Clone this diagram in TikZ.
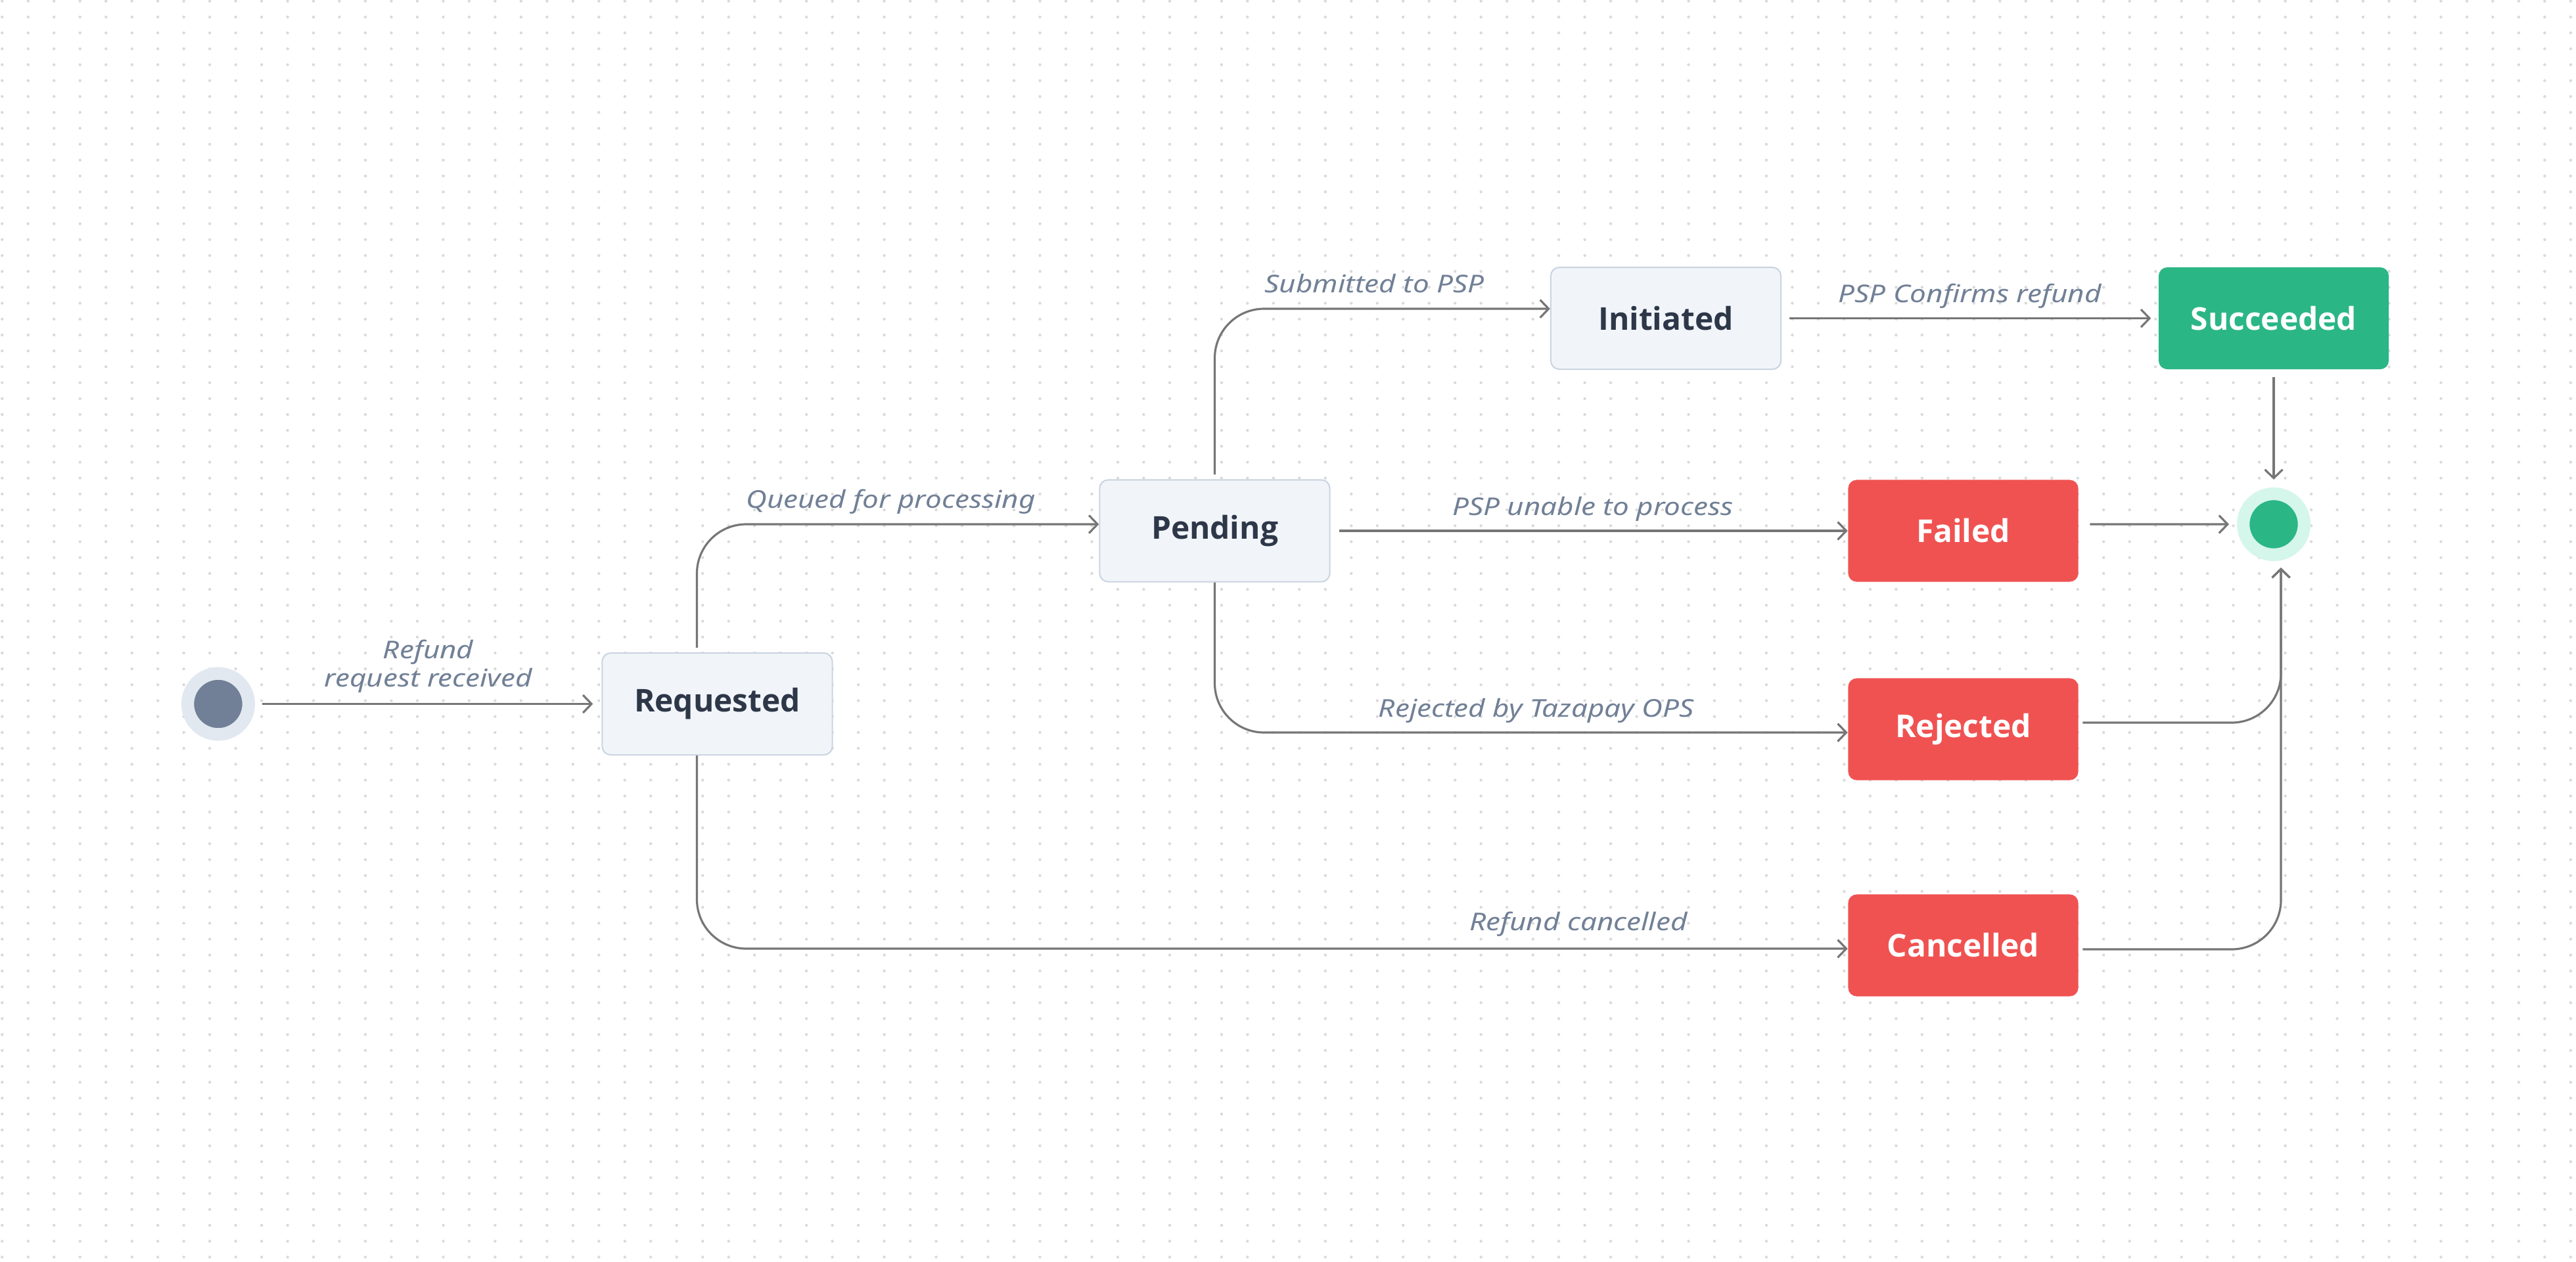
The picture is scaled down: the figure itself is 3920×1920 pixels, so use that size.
\documentclass[tikz,border=0pt]{standalone}
\usepackage{fontspec}
\setmainfont{Noto Sans}
\newfontfamily\stateFace{Open Sans}
\newfontfamily\labelFace{Noto Sans}[FakeStretch=1.18]
\usetikzlibrary{arrows.meta}

\definecolor{lineGray}{HTML}{767676}
\definecolor{labelSlate}{HTML}{718096}
\definecolor{textDark}{HTML}{2D3748}
\definecolor{stateFill}{HTML}{F1F5F9}
\definecolor{stateBorder}{HTML}{CBD5E1}
\definecolor{failRed}{HTML}{F05252}
\definecolor{doneGreen}{HTML}{2BB686}
\definecolor{doneRing}{HTML}{D5F6EA}
\definecolor{startRing}{HTML}{E2E8F0}
\definecolor{gridDot}{HTML}{DADADA}

\begin{document}
\begin{tikzpicture}[x=0.01cm, y=-0.01cm,
		stateBox/.style={rectangle, rounded corners=0.13cm, minimum width=3.5cm, minimum height=1.55cm, inner sep=0pt, font=\stateFace\fontsize{13.6}{16}\selectfont\bfseries},
		neutral/.style={stateBox, fill=stateFill, draw=stateBorder, line width=0.6pt, text=textDark},
		bad/.style={stateBox, fill=failRed, text=white},
		good/.style={stateBox, fill=doneGreen, text=white},
		pseudo/.style={circle, minimum size=0.927cm, inner sep=0pt, line width=0.193cm},
		flow/.style={draw=lineGray, line width=0.9pt, rounded corners=0.75cm, -{Straight Barb[length=0.13cm, width=0.27cm]}},
		lbl/.style={font=\labelFace\fontsize{10.6}{12.5}\selectfont\itshape, text=labelSlate, anchor=base, yshift=0.24cm, inner sep=0pt}]
			
			\useasboundingbox (0,0) rectangle (3920,1920);
			\fill[white] (0,0) rectangle (3920,1920);
			\foreach \i in {0,...,99} {
				\fill[gridDot] \foreach \j in {0,...,79} {(3.3+39.48*\i, 1.7+24.2*\j) circle (2.2)};
			}
			
			% states
			\node[pseudo, fill=labelSlate, draw=startRing] (start) at (332,1071.5) {};
			\node[neutral] (req) at (1091.5,1071.5) {Requested};
			\node[neutral] (pend) at (1848.5,808) {Pending};
			\node[neutral] (init) at (2535,484.5) {Initiated};
			\node[good] (succ) at (3460,484.5) {Succeeded};
			\node[bad] (fail) at (2987.5,808) {Failed};
			\node[bad] (rej) at (2987.5,1110) {Rejected};
			\node[bad] (canc) at (2987.5,1439) {Cancelled};
			\node[pseudo, fill=doneGreen, draw=doneRing] (end) at (3460,798) {};
			
			% transitions
			\draw[flow, shorten <=0.11cm, shorten >=0.13cm] (start) -- node[lbl, align=center, anchor=south, yshift=-0.09cm] (lRefund) {Refund\\request received} (req);
			\draw[flow, shorten <=0.07cm] ([xshift=-0.31cm]req.north) |- node[lbl, pos=0.741] (lQueued) {Queued for processing} ([yshift=0.1cm]pend.west);
			\draw[flow, shorten <=0.07cm] (pend.north) |- node[lbl, pos=0.738] (lSubmitted) {Submitted to PSP} ([yshift=0.145cm]init.west);
			\draw[flow, shorten <=0.12cm, shorten >=0.11cm] (init) -- node[lbl] (lConfirms) {PSP Confirms refund} (succ);
			\draw[flow, shorten <=0.11cm, shorten >=0.12cm] (succ) -- (end);
			\draw[flow, shorten <=0.13cm] (pend) -- node[lbl, pos=0.507] (lUnable) {PSP unable to process} (fail);
			\draw[flow, shorten <=0.17cm, shorten >=0.12cm] ([yshift=0.1cm]fail.east) -- (end.west);
			\draw[flow] (pend.south) |- node[lbl, pos=0.754] (lRejected) {Rejected by Tazapay OPS} ([yshift=-0.05cm]rej.west);
			\draw[flow, shorten <=0.06cm, shorten >=0.1cm] ([yshift=0.1cm]rej.east) -| ([xshift=0.11cm]end.south);
			\draw[flow] ([xshift=-0.31cm]req.south) |- node[lbl, pos=0.883, yshift=0.04cm] (lCancelled) {Refund cancelled} ([yshift=-0.05cm]canc.west);
			\draw[flow, shorten <=0.06cm, shorten >=0.1cm] ([yshift=-0.06cm]canc.east) -| ([xshift=0.11cm]end.south);
		
\end{tikzpicture}
\end{document}
